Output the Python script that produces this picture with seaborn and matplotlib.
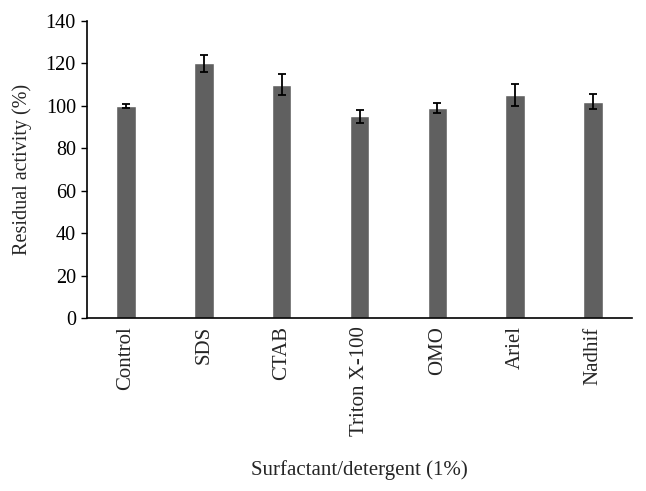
import matplotlib
matplotlib.use("Agg")
import matplotlib.pyplot as plt
import pandas as pd
import seaborn as sns

# data
agents = ["Control", "SDS", "CTAB", "Triton X-100", "OMO", "Ariel", "Nadhif"]
activity = [100, 120, 110, 95, 99, 105, 102]
errors = [1, 4.2, 5.1, 3, 2.2, 5.2, 3.7]

df = pd.DataFrame({"agent": agents, "activity": activity})

sns.set_style("ticks")
plt.rcParams['font.family'] = ['Liberation Serif', 'DejaVu Serif']

fig = plt.figure(figsize=(6.46, 4.91), dpi=100)
ax = fig.add_axes([87/646, 1-318/491, 545/646, 297/491])

sns.barplot(data=df, x="agent", y="activity", color="#606060", saturation=1,
            width=0.25, ax=ax)
ax.errorbar(range(len(agents)), activity, yerr=errors, fmt="none",
            ecolor="black", elinewidth=1.3, capsize=3, capthick=1.3)

ax.set_xlim(-0.5, 6.5)
ax.set_ylim(0, 140)
ax.set_yticks(range(0, 141, 20))
ax.tick_params(axis="y", labelsize=14.5, direction="out", length=4, width=1, colors="black", pad=4)
ax.tick_params(axis="x", labelsize=15, length=0, pad=6)
plt.setp(ax.get_xticklabels(), rotation=90)
ax.set_ylabel("Residual activity (%)", fontsize=14.5, labelpad=10)
ax.set_xlabel("Surfactant/detergent (1%)", fontsize=15, labelpad=17)
sns.despine(ax=ax)
for s in ["left", "bottom"]:
    ax.spines[s].set_color("black")
    ax.spines[s].set_linewidth(1.2)

fig.savefig("out.png", dpi=100)
